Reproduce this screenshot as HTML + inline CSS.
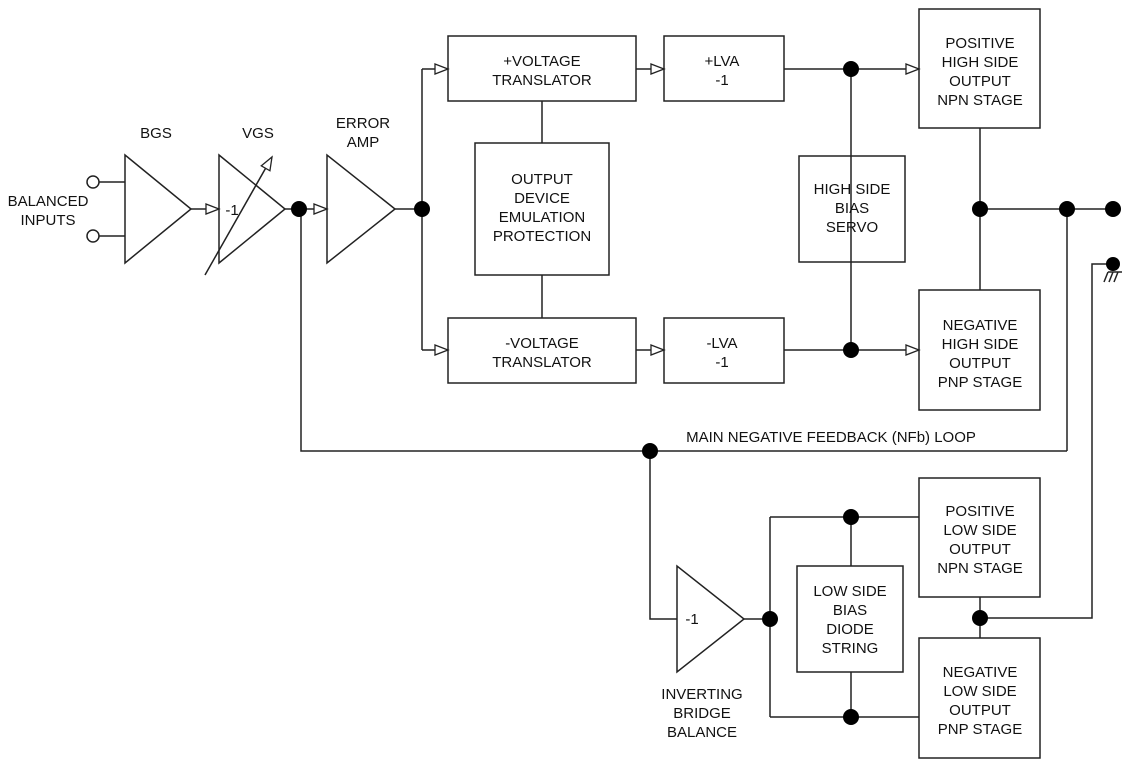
<!DOCTYPE html>
<html><head><style>body{margin:0;background:#fff}svg{display:block}text{font-family:"Liberation Sans",Arial,sans-serif;font-size:15px;fill:#111;text-anchor:middle}</style></head><body>
<svg width="1131" height="766" viewBox="0 0 1131 766" xmlns="http://www.w3.org/2000/svg">
<defs><marker id="a" markerWidth="16" markerHeight="12" refX="14" refY="6" orient="auto" markerUnits="userSpaceOnUse"><path d="M1,1 L14,6 L1,11 Z" fill="#fff" stroke="#222" stroke-width="1.3"/></marker></defs>
<g stroke="#222" stroke-width="1.5" fill="none">
<rect x="448" y="36" width="188" height="65"/><rect x="664" y="36" width="120" height="65"/>
<rect x="448" y="318" width="188" height="65"/><rect x="664" y="318" width="120" height="65"/>
<rect x="475" y="143" width="134" height="132"/><rect x="799" y="156" width="106" height="106"/>
<rect x="919" y="9" width="121" height="119"/><rect x="919" y="290" width="121" height="120"/>
<rect x="919" y="478" width="121" height="119"/><rect x="797" y="566" width="106" height="106"/>
<rect x="919" y="638" width="121" height="120"/>
<path d="M125,155 L125,263 L191,209 Z"/><path d="M219,155 L219,263 L285,209 Z"/>
<path d="M327,155 L327,263 L395,209 Z"/><path d="M677,566 L677,672 L744,619 Z"/>
<circle cx="93" cy="182" r="6"/><circle cx="93" cy="236" r="6"/>
<path d="M99,182H125M99,236H125"/>
<path d="M191,209H219" marker-end="url(#a)"/>
<path d="M205,275L272,157" marker-end="url(#a)"/>
<path d="M285,209H327" marker-end="url(#a)"/>
<path d="M395,209H422M422,69V350"/>
<path d="M422,69H448" marker-end="url(#a)"/><path d="M422,350H448" marker-end="url(#a)"/>
<path d="M636,69H664" marker-end="url(#a)"/><path d="M636,350H664" marker-end="url(#a)"/>
<path d="M784,69H919" marker-end="url(#a)"/><path d="M784,350H919" marker-end="url(#a)"/>
<path d="M851,69V350M542,101V143M542,275V318M980,128V290M980,209H1113M1067,209V451M301,209V451H1067M650,451V619H677M744,619H770M770,517V717M770,517H919M770,717H919M851,517V566M851,672V717M980,597V638M980,618H1092V264H1113"/>
<path d="M1108,272L1104,282M1108,272H1122M1113,272L1109,282M1118,272L1114,282M1122,272"/>
</g>
<g fill="#000">
<circle cx="299" cy="209" r="8"/><circle cx="422" cy="209" r="8"/><circle cx="851" cy="69" r="8"/><circle cx="851" cy="350" r="8"/>
<circle cx="980" cy="209" r="8"/><circle cx="1067" cy="209" r="8"/><circle cx="1113" cy="209" r="8"/><circle cx="1113" cy="264" r="7"/>
<circle cx="650" cy="451" r="8"/><circle cx="851" cy="517" r="8"/><circle cx="770" cy="619" r="8"/><circle cx="851" cy="717" r="8"/><circle cx="980" cy="618" r="8"/>
</g>
<text x="48" y="206">BALANCED</text><text x="48" y="225">INPUTS</text>
<text x="156" y="138">BGS</text><text x="258" y="138">VGS</text>
<text x="363" y="128">ERROR</text><text x="363" y="147">AMP</text>
<text x="232" y="215" text-anchor="start">-1</text>
<text x="542" y="66">+VOLTAGE</text><text x="542" y="85">TRANSLATOR</text>
<text x="722" y="66">+LVA</text><text x="722" y="85">-1</text>
<text x="542" y="348">-VOLTAGE</text><text x="542" y="367">TRANSLATOR</text>
<text x="722" y="348">-LVA</text><text x="722" y="367">-1</text>
<text x="542" y="184">OUTPUT</text><text x="542" y="203">DEVICE</text><text x="542" y="222">EMULATION</text><text x="542" y="241">PROTECTION</text>
<text x="852" y="194">HIGH SIDE</text><text x="852" y="213">BIAS</text><text x="852" y="232">SERVO</text>
<text x="980" y="48">POSITIVE</text><text x="980" y="67">HIGH SIDE</text><text x="980" y="86">OUTPUT</text><text x="980" y="105">NPN STAGE</text>
<text x="980" y="330">NEGATIVE</text><text x="980" y="349">HIGH SIDE</text><text x="980" y="368">OUTPUT</text><text x="980" y="387">PNP STAGE</text>
<text x="831" y="442">MAIN NEGATIVE FEEDBACK (NFb) LOOP</text>
<text x="980" y="516">POSITIVE</text><text x="980" y="535">LOW SIDE</text><text x="980" y="554">OUTPUT</text><text x="980" y="573">NPN STAGE</text>
<text x="850" y="596">LOW SIDE</text><text x="850" y="615">BIAS</text><text x="850" y="634">DIODE</text><text x="850" y="653">STRING</text>
<text x="980" y="677">NEGATIVE</text><text x="980" y="696">LOW SIDE</text><text x="980" y="715">OUTPUT</text><text x="980" y="734">PNP STAGE</text>
<text x="692" y="624">-1</text>
<text x="702" y="699">INVERTING</text><text x="702" y="718">BRIDGE</text><text x="702" y="737">BALANCE</text>
</svg></body></html>
